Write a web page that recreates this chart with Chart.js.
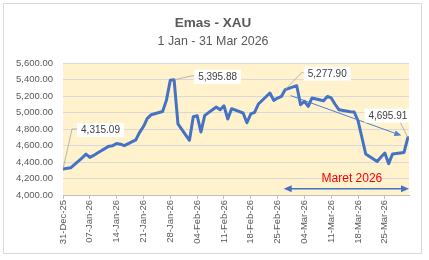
<!DOCTYPE html>
<html>
<head>
<meta charset="utf-8">
<script src="https://cdn.jsdelivr.net/npm/chart.js@4/dist/chart.umd.min.js"></script>
<style>
  html, body { margin: 0; padding: 0; background: #fff; }
  #wrap { width: 429px; height: 260px; }
</style>
</head>
<body>
<div id="wrap"><canvas id="goldChart" width="429" height="260"></canvas></div>
<script>
/* ---------------------------------
   DATA
--------------------------------- */
const chartTitle = "Emas - XAU";
const chartSubtitle = "1 Jan - 31 Mar 2026";

// day offset from 31-Dec-2025 for each trading day
const tradeDays = [0, 2, 5, 6, 7, 8, 9, 12, 13, 14, 15, 16, 19, 20, 21, 22, 23, 26, 27, 28, 29,
  30, 33, 34, 35, 36, 37, 40, 41, 42, 43, 44, 47, 48, 49, 50, 51, 54, 55, 56, 57, 58,
  61, 62, 63, 64, 65, 68, 69, 70, 71, 72, 75, 76, 77, 78, 79, 82, 83, 84, 85, 86, 89, 90];
const xauPrice = [4315.09, 4330, 4450, 4495, 4456, 4480, 4510, 4592, 4598, 4624, 4616, 4598, 4668, 4760, 4830, 4930, 4972, 5012, 5150, 5390, 5395.88,
  4861, 4662, 4949, 4961, 4764, 4965, 5067, 5034, 5082, 4921, 5046, 4994, 4876, 4982, 5001, 5103, 5236, 5147, 5175, 5195, 5277.90,
  5325, 5095, 5135, 5074, 5176, 5143, 5195, 5176, 5100, 5034, 5010, 5006, 4900, 4700, 4497, 4407, 4460, 4509, 4380, 4497, 4516, 4695.91];

const tickDays = [0, 7, 14, 21, 28, 35, 42, 49, 56, 63, 70, 77, 84];
const tickLabels = ["31-Dec-25", "07-Jan-26", "14-Jan-26", "21-Jan-26", "28-Jan-26", "04-Feb-26", "11-Feb-26",
  "18-Feb-26", "25-Feb-26", "04-Mar-26", "11-Mar-26", "18-Mar-26", "25-Mar-26"];
const yMin = 4000, yMax = 5600, yStep = 200;

// labelled points
const calloutDays = [0, 29, 58, 90];
const calloutValues = [4315.09, 5395.88, 5277.90, 4695.91];

// trend arrow and "Maret 2026" span (day, value)
const trendFrom = [59.4, 5205];
const trendTo = [88.3, 4720];
const marchSpan = [57.6, 90.3];
const marchSpanValue = 4077;
const marchLabel = "Maret 2026";
const marchLabelAt = [75.4, 4192];

/* ---------------------------------
   HELPERS
--------------------------------- */
const FONT = "'Liberation Sans', Arial, sans-serif";
const fmt = (v) => v.toLocaleString("en-US", { minimumFractionDigits: 2, maximumFractionDigits: 2 });

function arrowHead(ctx, x1, y1, x2, y2, len, wid) {
  const a = Math.atan2(y2 - y1, x2 - x1);
  ctx.beginPath();
  ctx.moveTo(x2, y2);
  ctx.lineTo(x2 - len * Math.cos(a) + (wid / 2) * Math.sin(a), y2 - len * Math.sin(a) - (wid / 2) * Math.cos(a));
  ctx.lineTo(x2 - len * Math.cos(a) - (wid / 2) * Math.sin(a), y2 - len * Math.sin(a) + (wid / 2) * Math.cos(a));
  ctx.closePath();
  ctx.fill();
}

/* ---------------------------------
   PLUGINS
--------------------------------- */
const backdrop = {
  id: "backdrop",
  beforeDraw(chart) {
    const { ctx, chartArea: a } = chart;
    ctx.save();
    ctx.fillStyle = "#ffffff";
    ctx.fillRect(0, 0, chart.width, chart.height);
    ctx.strokeStyle = "#d9d9d9";
    ctx.lineWidth = 1;
    ctx.strokeRect(3.5, 3.5, 418, 250);
    ctx.fillStyle = "#FFF2CC";
    ctx.fillRect(a.left, a.top, a.right - a.left, a.bottom - a.top);
    ctx.restore();
  }
};

// box offsets from the point, and how the leader line bends
const calloutLayout = [
  { dx: 37.5, dy: -39, leader: "left", bend: 5 },
  { dx: 43.5, dy: -3, leader: "left", bend: 2 },
  { dx: 42, dy: -16, leader: "left", bend: 2 },
  { dx: -20, dy: -22, leader: "bottom", bend: 11 }
];

const overlay = {
  id: "overlay",
  afterDraw(chart) {
    const { ctx } = chart;
    const xs = chart.scales.x, ys = chart.scales.y;
    ctx.save();

    // titles
    ctx.fillStyle = "#595959";
    ctx.textAlign = "center";
    ctx.textBaseline = "alphabetic";
    ctx.font = `bold 13.5px ${FONT}`;
    ctx.fillText(chartTitle, 213, 27);
    ctx.font = `12.4px ${FONT}`;
    ctx.fillText(chartSubtitle, 213, 45);

    // trend arrow
    const tx1 = xs.getPixelForValue(trendFrom[0]), ty1 = ys.getPixelForValue(trendFrom[1]);
    const tx2 = xs.getPixelForValue(trendTo[0]), ty2 = ys.getPixelForValue(trendTo[1]);
    ctx.strokeStyle = "#4F7FD0";
    ctx.fillStyle = "#4F7FD0";
    ctx.lineWidth = 1;
    ctx.beginPath();
    ctx.moveTo(tx1, ty1);
    ctx.lineTo(tx2 - 4, ty2 - 1.5);
    ctx.stroke();
    arrowHead(ctx, tx1, ty1, tx2, ty2, 7, 6);

    // March span double arrow
    const sx1 = xs.getPixelForValue(marchSpan[0]), sx2 = xs.getPixelForValue(marchSpan[1]);
    const sy = ys.getPixelForValue(marchSpanValue);
    ctx.strokeStyle = "#4472C4";
    ctx.fillStyle = "#4472C4";
    ctx.lineWidth = 1.5;
    ctx.beginPath();
    ctx.moveTo(sx1 + 6, sy);
    ctx.lineTo(sx2 - 6, sy);
    ctx.stroke();
    arrowHead(ctx, sx2, sy, sx1, sy, 8, 7);
    arrowHead(ctx, sx1, sy, sx2, sy, 8, 7);

    ctx.fillStyle = "#FF0000";
    ctx.font = `12px ${FONT}`;
    ctx.textBaseline = "middle";
    ctx.fillText(marchLabel, xs.getPixelForValue(marchLabelAt[0]), ys.getPixelForValue(marchLabelAt[1]));

    // data callouts
    ctx.font = `10px ${FONT}`;
    calloutDays.forEach((d, i) => {
      const lay = calloutLayout[i];
      const px = xs.getPixelForValue(d), py = ys.getPixelForValue(calloutValues[i]);
      const txt = fmt(calloutValues[i]);
      const w = ctx.measureText(txt).width + 8, h = 14;
      const cx = px + lay.dx, cy = py + lay.dy;
      const left = cx - w / 2, top = cy - h / 2;

      ctx.strokeStyle = "#a6a6a6";
      ctx.lineWidth = 0.8;
      ctx.beginPath();
      ctx.moveTo(px, py);
      if (lay.leader === "left") {
        ctx.lineTo(left - lay.bend, cy - 1);
        ctx.lineTo(left, cy - 1);
      } else {
        ctx.lineTo(left + w - lay.bend, top + h);
      }
      ctx.stroke();

      ctx.fillStyle = "#ffffff";
      ctx.fillRect(left, top, w, h);
      ctx.fillStyle = "#404040";
      ctx.textAlign = "center";
      ctx.textBaseline = "middle";
      ctx.fillText(txt, cx, cy + 0.5);
    });

    ctx.restore();
  }
};

/* ---------------------------------
   CHART
--------------------------------- */
const points = tradeDays.map((d, i) => ({ x: d, y: xauPrice[i] }));

new Chart(document.getElementById("goldChart").getContext("2d"), {
  type: "line",
  data: {
    datasets: [{
      label: "XAU",
      data: points,
      borderColor: "#4472C4",
      borderWidth: 3,
      pointRadius: 0,
      tension: 0,
      borderJoinStyle: "round",
      borderCapStyle: "round"
    }]
  },
  options: {
    responsive: false,
    animation: false,
    devicePixelRatio: 1,
    layout: { padding: { left: 0, right: 20, top: 63, bottom: 0 } },
    plugins: {
      legend: { display: false },
      title: { display: false },
      tooltip: { enabled: false }
    },
    scales: {
      x: {
        type: "linear",
        min: 0,
        max: 90.3,
        afterBuildTicks: (scale) => { scale.ticks = tickDays.map((v) => ({ value: v })); },
        afterFit: (scale) => { scale.height = 65; },
        ticks: {
          autoSkip: false,
          minRotation: 90,
          maxRotation: 90,
          padding: 1,
          color: "#595959",
          font: { family: FONT, size: 9.5 },
          callback: (v) => tickLabels[tickDays.indexOf(v)]
        },
        grid: { drawOnChartArea: false, drawTicks: true, tickLength: 4, color: "#bfbfbf" },
        border: { color: "#bfbfbf", width: 1 }
      },
      y: {
        min: yMin,
        max: yMax,
        afterFit: (scale) => { scale.width = 63; },
        ticks: {
          stepSize: yStep,
          padding: 10,
          color: "#595959",
          font: { family: FONT, size: 9.5 },
          callback: (v) => fmt(v)
        },
        grid: { color: "#d9d9d9", drawTicks: false },
        border: { display: false }
      }
    }
  },
  plugins: [backdrop, overlay]
});
</script>
</body>
</html>
